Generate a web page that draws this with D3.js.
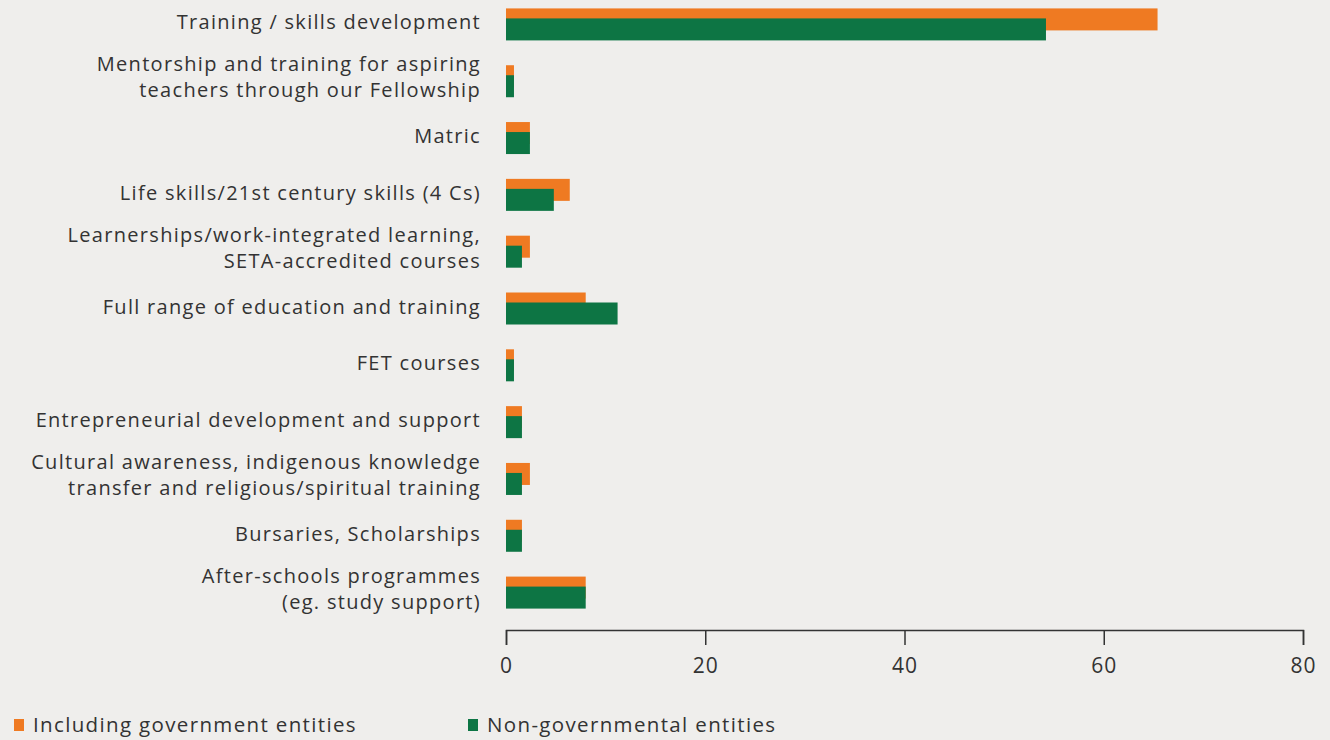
<!DOCTYPE html>
<html>
<head>
<meta charset="utf-8">
<script src="https://cdn.jsdelivr.net/npm/d3@7"></script>
<style>
  html, body { margin: 0; padding: 0; background: #efeeec; }
  svg { display: block; }
  text { font-family: "Open Sans", "Noto Sans", sans-serif; fill: #333; }
</style>
</head>
<body>
<svg id="chart" width="1330" height="740"></svg>
<script>
const categories = [
  ["Training / skills development"],
  ["Mentorship and training for aspiring", "teachers through our Fellowship"],
  ["Matric"],
  ["Life skills/21st century skills (4 Cs)"],
  ["Learnerships/work-integrated learning,", "SETA-accredited courses"],
  ["Full range of education and training"],
  ["FET courses"],
  ["Entrepreneurial development and support"],
  ["Cultural awareness, indigenous knowledge", "transfer and religious/spiritual training"],
  ["Bursaries, Scholarships"],
  ["After-schools programmes", "(eg. study support)"]
];
const includingGov = [65.4, 0.8, 2.4, 6.4, 2.4, 8.0, 0.8, 1.6, 2.4, 1.6, 8.0];
const nonGov = [54.2, 0.8, 2.4, 4.8, 1.6, 11.2, 0.8, 1.6, 1.6, 1.6, 8.0];
const xTicks = [0, 20, 40, 60, 80];
const seriesNames = ["Including government entities", "Non-governmental entities"];
const colors = ["#ef7a22", "#0d7544"];

const svg = d3.select("#chart");
const keys = categories.map((c, i) => i);

const x = d3.scaleLinear().domain([0, 80]).range([506, 1303]);
const y = d3.scaleBand().domain(keys).range([-4, 621]);

// Orange bars (behind)
svg.append("g").selectAll("rect").data(includingGov).join("rect")
  .attr("x", x(0))
  .attr("y", (d, i) => y(i) + y.bandwidth() / 2 - 16)
  .attr("width", d => x(d) - x(0))
  .attr("height", 22)
  .attr("fill", colors[0]);

// Green bars (front)
svg.append("g").selectAll("rect").data(nonGov).join("rect")
  .attr("x", x(0))
  .attr("y", (d, i) => y(i) + y.bandwidth() / 2 - 6)
  .attr("width", d => x(d) - x(0))
  .attr("height", 22)
  .attr("fill", colors[1]);

// Category labels
const lab = svg.append("g");
categories.forEach((lines, i) => {
  const cy = y(i) + y.bandwidth() / 2 - 2;
  const lh = 26;
  const start = cy - (lines.length - 1) * lh / 2 - (lines.length > 1 ? 2 : 0);
  const t = lab.append("text")
    .attr("text-anchor", "end")
    .attr("font-size", 20)
    .attr("letter-spacing", 1.3)
    .attr("fill", "#383838");
  lines.forEach((ln, j) => {
    t.append("tspan")
      .attr("x", 481)
      .attr("y", start + j * lh)
      .attr("dy", "0.35em")
      .text(ln);
  });
});

// X axis
const axis = d3.axisBottom(x).tickValues(xTicks).tickSize(15).tickSizeOuter(15).tickPadding(13);
const ax = svg.append("g").attr("transform", "translate(0,630)").call(axis);
ax.select(".domain").attr("stroke", "#333").attr("stroke-width", 1.5);
ax.selectAll(".tick line").attr("stroke", "#333").attr("stroke-width", 1.5);
ax.selectAll(".tick text").attr("font-size", 21).attr("fill", "#333")
  .attr("letter-spacing", 1)
  .style("font-family", '"Open Sans", "Noto Sans", sans-serif');

// Legend
const legX = [14, 468];
const leg = svg.append("g");
seriesNames.forEach((s, i) => {
  leg.append("rect").attr("x", legX[i]).attr("y", 719).attr("width", 10).attr("height", 12).attr("fill", colors[i]);
  leg.append("text").attr("x", legX[i] + 19).attr("y", 725).attr("dy", "0.35em")
    .attr("font-size", 20.5).attr("letter-spacing", 1.35).attr("fill", "#383838").text(s);
});
</script>
</body>
</html>
